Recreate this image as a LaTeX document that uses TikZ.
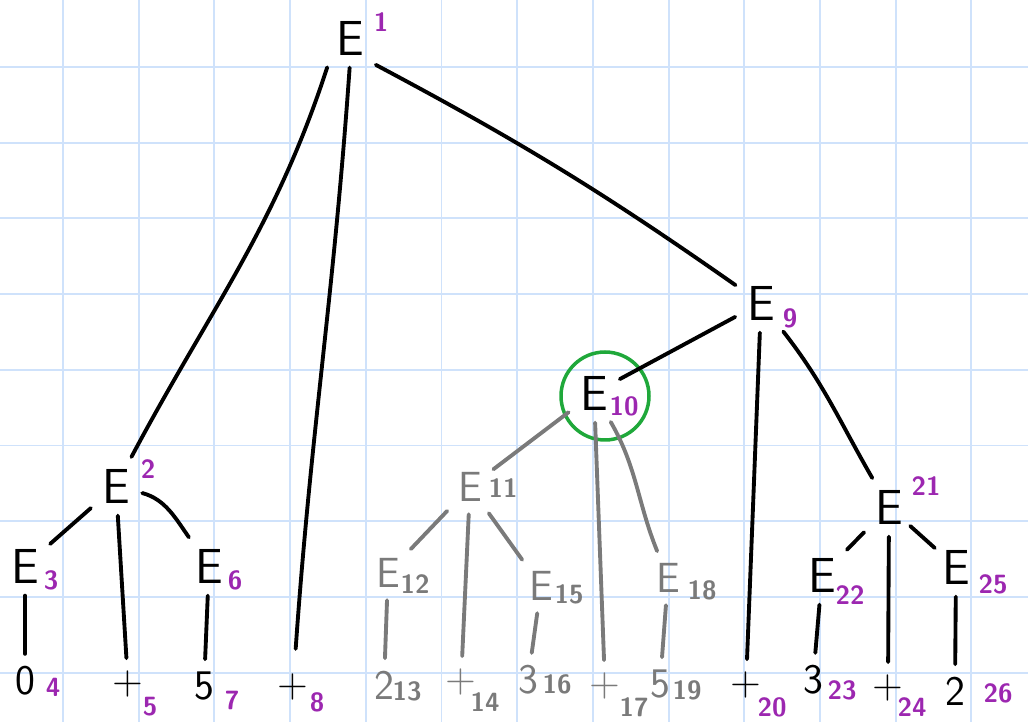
\documentclass[tikz,border=0pt]{standalone}
\usepackage{fontspec}
\definecolor{penPurple}{HTML}{9C27B0}
\definecolor{penGray}{HTML}{7A7A7A}
\definecolor{penGreen}{HTML}{1FA83A}
\definecolor{gridBlue}{HTML}{CFE2FB}

\begin{document}
\begin{tikzpicture}[
    x=0.02cm, y=-0.02cm,
    gridLine/.style={draw=gridBlue, line width=1.1pt},
    symNode/.style={inner sep=4pt, font=\fontsize{28}{30}\selectfont\sffamily},
    graySym/.style={symNode, text=penGray, font=\fontsize{24}{26}\selectfont\sffamily},
    termNode/.style={inner sep=4pt, font=\fontsize{24}{26}\selectfont\sffamily},
    grayTerm/.style={termNode, text=penGray},
    idxLabel/.style={inner sep=0pt, text=penPurple, font=\fontsize{15}{16}\selectfont\sffamily\bfseries},
    grayIdx/.style={idxLabel, text=penGray},
    edgeLine/.style={draw=black, line width=2.2pt, line cap=round, shorten <=3pt, shorten >=3pt},
    grayLine/.style={edgeLine, draw=penGray},
    ringNode/.style={circle, draw=penGreen, line width=2pt, minimum size=1.76cm, inner sep=0pt}
]
    \useasboundingbox (0,0) rectangle (1028,722);

    % paper grid
    \foreach \k in {0,...,12}
        \draw[gridLine] ({63+75.7*\k},0) -- ({63+75.7*\k},722);
    \foreach \k in {0,...,8}
        \draw[gridLine] (0,{67+75.7*\k}) -- (1028,{67+75.7*\k});

    % nonterminals
    \node[symNode] (e1) at (350,38) {E};
    \node[symNode] (e2) at (116,486) {E};
    \node[symNode] (e3) at (25,566) {E};
    \node[symNode] (e6) at (209,566) {E};
    \node[symNode] (e9) at (761,303) {E};
    \node[symNode] (e10) at (594,393) {E};
    \node[symNode] (e21) at (889,507) {E};
    \node[symNode] (e22) at (822,575) {E};
    \node[symNode] (e25) at (956,567) {E};
    \node[graySym] (e11) at (470,487) {E};
    \node[graySym] (e12) at (388,573) {E};
    \node[graySym] (e15) at (541,586) {E};
    \node[graySym] (e18) at (668,578) {E};

    % terminals
    \node[termNode] (t4) at (25,681) {0};
    \node[termNode] (t5) at (128,684) {+};
    \node[termNode] (t7) at (204,686) {5};
    \node[termNode] (t8) at (293,687) {+};
    \node[termNode] (t20) at (746,685) {+};
    \node[termNode] (t23) at (813,680) {3};
    \node[termNode] (t24) at (888,688) {+};
    \node[termNode] (t26) at (955,691) {2};
    \node[grayTerm] (t13) at (384,685) {2};
    \node[grayTerm] (t14) at (461,682) {+};
    \node[grayTerm] (t16) at (528,680) {3};
    \node[grayTerm] (t17) at (605,686) {+};
    \node[grayTerm] (t19) at (660,684) {5};

    % step numbers
    \node[idxLabel] (n1) at (381,22) {1};
    \node[idxLabel] (n2) at (148,469) {2};
    \node[idxLabel] (n3) at (51,580) {3};
    \node[idxLabel] (n4) at (53,687) {4};
    \node[idxLabel] (n5) at (150,707) {5};
    \node[idxLabel] (n6) at (235,580) {6};
    \node[idxLabel] (n7) at (232,700) {7};
    \node[idxLabel] (n8) at (317,702) {8};
    \node[idxLabel] (n9) at (790,318) {9};
    \node[idxLabel] (n10) at (624,406) {10};
    \node[idxLabel] (n20) at (772,707) {20};
    \node[idxLabel] (n21) at (926,486) {21};
    \node[idxLabel] (n22) at (850,595) {22};
    \node[idxLabel] (n23) at (842,690) {23};
    \node[idxLabel] (n24) at (912,707) {24};
    \node[idxLabel] (n25) at (993,584) {25};
    \node[idxLabel] (n26) at (998,693) {26};
    \node[grayIdx] (n11) at (503,488) {11};
    \node[grayIdx] (n12) at (415,584) {12};
    \node[grayIdx] (n13) at (407,691) {13};
    \node[grayIdx] (n14) at (485,702) {14};
    \node[grayIdx] (n15) at (569,594) {15};
    \node[grayIdx] (n16) at (557,684) {16};
    \node[grayIdx] (n17) at (634,707) {17};
    \node[grayIdx] (n18) at (702,590) {18};
    \node[grayIdx] (n19) at (687,690) {19};

    % highlight
    \node[ringNode] (ring) at (605,396) {};

    % black edges
    \draw[edgeLine] (e1.south west) to[out=252, in=62] (e2);
    \draw[edgeLine, shorten >=10pt] (e1.south) to[out=266, in=86] (t8);
    \draw[edgeLine] (e1.south east) to[out=332, in=145] (e9);
    \draw[edgeLine] (e2) -- (e3);
    \draw[edgeLine] (e2) -- (t5);
    \draw[edgeLine] (e2) to[out=345, in=125] (e6);
    \draw[edgeLine] (e3) -- (t4);
    \draw[edgeLine] (e6) -- (t7);
    \draw[edgeLine] (e9) -- (e10);
    \draw[edgeLine] (e9) -- (t20);
    \draw[edgeLine] (e9) to[out=308, in=120] (e21);
    \draw[edgeLine] (e21) -- (e22);
    \draw[edgeLine] (e21) -- (t24);
    \draw[edgeLine, shorten <=0pt, shorten >=0pt] (e21) -- (e25);
    \draw[edgeLine] (e22) -- (t23);
    \draw[edgeLine] (e25) -- (t26);

    % gray edges
    \draw[grayLine] (e10) -- (e11);
    \draw[grayLine] (e10) -- (t17);
    \draw[grayLine] (e10) to[out=300, in=112] (e18);
    \draw[grayLine] (e11) -- (e12);
    \draw[grayLine] (e11) -- (t14);
    \draw[grayLine] (e11) -- (e15);
    \draw[grayLine] (e12) -- (t13);
    \draw[grayLine] (e15) -- (t16);
    \draw[grayLine] (e18) -- (t19);
\end{tikzpicture}
\end{document}
